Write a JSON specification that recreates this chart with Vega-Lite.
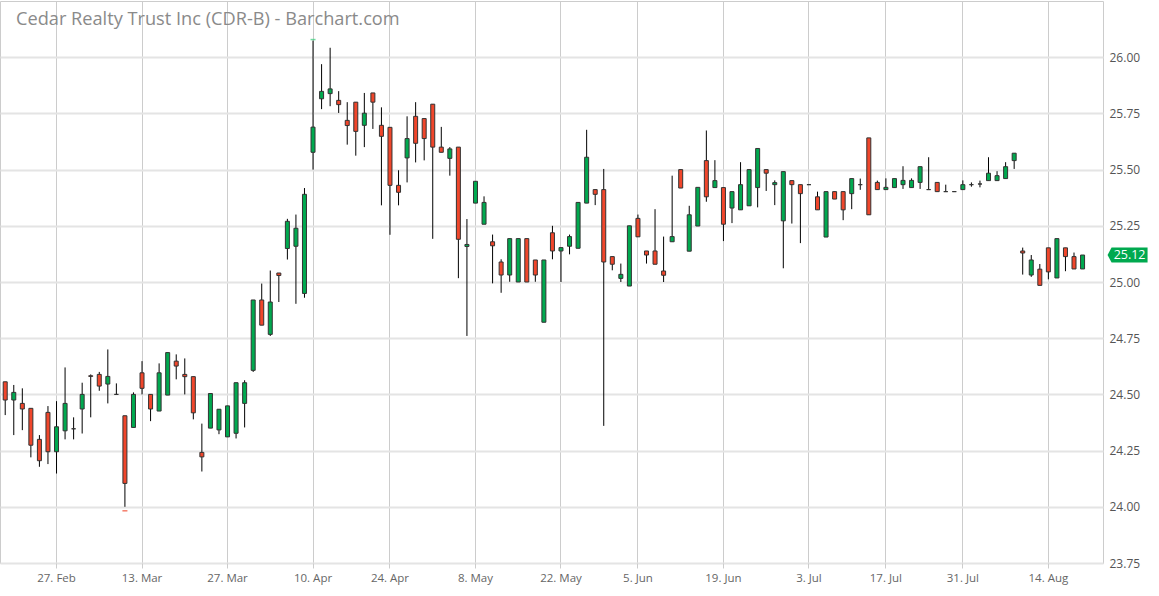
{
  "$schema": "https://vega.github.io/schema/vega-lite/v6.json",
  "autosize": "none",
  "width": 1103,
  "height": 562,
  "padding": {"left": 0, "top": 1, "right": 56, "bottom": 33},
  "background": "white",
  "config": {
    "view": {"stroke": "#cccccc", "strokeWidth": 1},
    "font": "Open Sans"
  },
  "title": {
    "text": "Cedar Realty Trust Inc (CDR-B) - Barchart.com",
    "anchor": "start",
    "frame": "group",
    "orient": "top",
    "offset": -42,
    "dx": 16,
    "baseline": "alphabetic",
    "font": "Open Sans",
    "fontSize": 18.2,
    "fontWeight": "normal",
    "color": "#8a8a8a"
  },
  "data": {
    "values": [
      {"d":"2017-02-16","o":24.556,"h":24.556,"l":24.408,"c":24.475},
      {"d":"2017-02-17","o":24.475,"h":24.542,"l":24.319,"c":24.509},
      {"d":"2017-02-21","o":24.46,"h":24.527,"l":24.341,"c":24.435},
      {"d":"2017-02-22","o":24.438,"h":24.438,"l":24.22,"c":24.274},
      {"d":"2017-02-23","o":24.3,"h":24.319,"l":24.178,"c":24.205},
      {"d":"2017-02-24","o":24.42,"h":24.448,"l":24.19,"c":24.245},
      {"d":"2017-02-27","o":24.245,"h":24.47,"l":24.148,"c":24.356},
      {"d":"2017-02-28","o":24.338,"h":24.62,"l":24.3,"c":24.46},
      {"d":"2017-03-01","o":24.347,"h":24.398,"l":24.3,"c":24.347},
      {"d":"2017-03-02","o":24.435,"h":24.552,"l":24.326,"c":24.5},
      {"d":"2017-03-03","o":24.583,"h":24.589,"l":24.398,"c":24.58},
      {"d":"2017-03-06","o":24.589,"h":24.6,"l":24.516,"c":24.537},
      {"d":"2017-03-07","o":24.546,"h":24.7,"l":24.46,"c":24.58},
      {"d":"2017-03-08","o":24.5,"h":24.549,"l":24.5,"c":24.5},
      {"d":"2017-03-09","o":24.405,"h":24.405,"l":24.0,"c":24.104},
      {"d":"2017-03-10","o":24.353,"h":24.509,"l":24.353,"c":24.5},
      {"d":"2017-03-13","o":24.596,"h":24.648,"l":24.5,"c":24.527},
      {"d":"2017-03-14","o":24.5,"h":24.5,"l":24.381,"c":24.435},
      {"d":"2017-03-15","o":24.426,"h":24.638,"l":24.426,"c":24.596},
      {"d":"2017-03-16","o":24.497,"h":24.686,"l":24.497,"c":24.686},
      {"d":"2017-03-17","o":24.648,"h":24.678,"l":24.567,"c":24.626},
      {"d":"2017-03-20","o":24.589,"h":24.66,"l":24.5,"c":24.579},
      {"d":"2017-03-21","o":24.579,"h":24.579,"l":24.389,"c":24.418},
      {"d":"2017-03-22","o":24.242,"h":24.37,"l":24.157,"c":24.222},
      {"d":"2017-03-23","o":24.35,"h":24.504,"l":24.35,"c":24.504},
      {"d":"2017-03-24","o":24.342,"h":24.434,"l":24.323,"c":24.434},
      {"d":"2017-03-27","o":24.311,"h":24.449,"l":24.311,"c":24.449},
      {"d":"2017-03-28","o":24.327,"h":24.552,"l":24.304,"c":24.552},
      {"d":"2017-03-29","o":24.46,"h":24.563,"l":24.353,"c":24.552},
      {"d":"2017-03-30","o":24.607,"h":24.92,"l":24.6,"c":24.92},
      {"d":"2017-03-31","o":24.92,"h":24.993,"l":24.808,"c":24.808},
      {"d":"2017-04-03","o":24.767,"h":25.051,"l":24.76,"c":24.911},
      {"d":"2017-04-04","o":25.04,"h":25.04,"l":24.911,"c":25.029},
      {"d":"2017-04-05","o":25.149,"h":25.281,"l":25.1,"c":25.27},
      {"d":"2017-04-06","o":25.159,"h":25.3,"l":24.903,"c":25.239},
      {"d":"2017-04-07","o":24.949,"h":25.418,"l":24.93,"c":25.39},
      {"d":"2017-04-10","o":25.577,"h":26.074,"l":25.5,"c":25.689},
      {"d":"2017-04-11","o":25.815,"h":25.969,"l":25.769,"c":25.848},
      {"d":"2017-04-12","o":25.838,"h":26.042,"l":25.782,"c":25.859},
      {"d":"2017-04-13","o":25.808,"h":25.849,"l":25.752,"c":25.789},
      {"d":"2017-04-17","o":25.719,"h":25.8,"l":25.611,"c":25.696},
      {"d":"2017-04-18","o":25.8,"h":25.8,"l":25.562,"c":25.67},
      {"d":"2017-04-19","o":25.697,"h":25.841,"l":25.6,"c":25.751},
      {"d":"2017-04-20","o":25.841,"h":25.841,"l":25.681,"c":25.8},
      {"d":"2017-04-21","o":25.697,"h":25.777,"l":25.341,"c":25.648},
      {"d":"2017-04-24","o":25.688,"h":25.688,"l":25.21,"c":25.43},
      {"d":"2017-04-25","o":25.43,"h":25.497,"l":25.341,"c":25.399},
      {"d":"2017-04-26","o":25.552,"h":25.737,"l":25.443,"c":25.638},
      {"d":"2017-04-27","o":25.737,"h":25.8,"l":25.532,"c":25.617},
      {"d":"2017-04-28","o":25.727,"h":25.727,"l":25.541,"c":25.638},
      {"d":"2017-05-01","o":25.791,"h":25.791,"l":25.192,"c":25.6},
      {"d":"2017-05-02","o":25.6,"h":25.69,"l":25.577,"c":25.577},
      {"d":"2017-05-03","o":25.55,"h":25.6,"l":25.473,"c":25.592},
      {"d":"2017-05-04","o":25.6,"h":25.6,"l":25.017,"c":25.19},
      {"d":"2017-05-05","o":25.158,"h":25.28,"l":24.76,"c":25.167},
      {"d":"2017-05-08","o":25.351,"h":25.448,"l":25.351,"c":25.448},
      {"d":"2017-05-09","o":25.257,"h":25.381,"l":25.257,"c":25.354},
      {"d":"2017-05-10","o":25.179,"h":25.211,"l":24.994,"c":25.161},
      {"d":"2017-05-11","o":25.089,"h":25.101,"l":24.952,"c":25.031},
      {"d":"2017-05-12","o":25.031,"h":25.193,"l":25.001,"c":25.193},
      {"d":"2017-05-15","o":25.0,"h":25.193,"l":25.0,"c":25.193},
      {"d":"2017-05-16","o":25.193,"h":25.193,"l":25.0,"c":25.0},
      {"d":"2017-05-17","o":25.098,"h":25.098,"l":25.001,"c":25.031},
      {"d":"2017-05-18","o":24.821,"h":25.098,"l":24.821,"c":25.098},
      {"d":"2017-05-19","o":25.219,"h":25.25,"l":25.101,"c":25.138},
      {"d":"2017-05-22","o":25.138,"h":25.153,"l":25.0,"c":25.153},
      {"d":"2017-05-23","o":25.159,"h":25.211,"l":25.123,"c":25.202},
      {"d":"2017-05-24","o":25.15,"h":25.354,"l":25.15,"c":25.354},
      {"d":"2017-05-25","o":25.351,"h":25.677,"l":25.351,"c":25.555},
      {"d":"2017-05-26","o":25.411,"h":25.411,"l":25.342,"c":25.39},
      {"d":"2017-05-30","o":25.411,"h":25.503,"l":24.36,"c":25.089},
      {"d":"2017-05-31","o":25.113,"h":25.113,"l":25.052,"c":25.079},
      {"d":"2017-06-01","o":25.016,"h":25.082,"l":25.0,"c":25.034},
      {"d":"2017-06-02","o":24.982,"h":25.25,"l":24.982,"c":25.25},
      {"d":"2017-06-05","o":25.283,"h":25.3,"l":25.201,"c":25.201},
      {"d":"2017-06-06","o":25.138,"h":25.138,"l":25.082,"c":25.12},
      {"d":"2017-06-07","o":25.138,"h":25.324,"l":25.079,"c":25.079},
      {"d":"2017-06-08","o":25.049,"h":25.202,"l":25.0,"c":25.03},
      {"d":"2017-06-09","o":25.179,"h":25.473,"l":25.179,"c":25.202},
      {"d":"2017-06-12","o":25.5,"h":25.5,"l":25.418,"c":25.418},
      {"d":"2017-06-13","o":25.137,"h":25.339,"l":25.137,"c":25.299},
      {"d":"2017-06-14","o":25.249,"h":25.421,"l":25.249,"c":25.421},
      {"d":"2017-06-15","o":25.54,"h":25.674,"l":25.357,"c":25.379},
      {"d":"2017-06-16","o":25.42,"h":25.542,"l":25.42,"c":25.451},
      {"d":"2017-06-19","o":25.42,"h":25.42,"l":25.182,"c":25.257},
      {"d":"2017-06-20","o":25.329,"h":25.402,"l":25.262,"c":25.402},
      {"d":"2017-06-21","o":25.321,"h":25.533,"l":25.321,"c":25.433},
      {"d":"2017-06-22","o":25.339,"h":25.5,"l":25.339,"c":25.5},
      {"d":"2017-06-23","o":25.42,"h":25.594,"l":25.332,"c":25.594},
      {"d":"2017-06-26","o":25.5,"h":25.5,"l":25.405,"c":25.484},
      {"d":"2017-06-27","o":25.433,"h":25.452,"l":25.342,"c":25.442},
      {"d":"2017-06-28","o":25.272,"h":25.491,"l":25.061,"c":25.491},
      {"d":"2017-06-29","o":25.451,"h":25.451,"l":25.26,"c":25.433},
      {"d":"2017-06-30","o":25.433,"h":25.433,"l":25.173,"c":25.393},
      {"d":"2017-07-03","o":25.433,"h":25.433,"l":25.433,"c":25.433},
      {"d":"2017-07-05","o":25.379,"h":25.402,"l":25.321,"c":25.321},
      {"d":"2017-07-06","o":25.2,"h":25.402,"l":25.2,"c":25.402},
      {"d":"2017-07-07","o":25.402,"h":25.402,"l":25.369,"c":25.369},
      {"d":"2017-07-10","o":25.402,"h":25.402,"l":25.275,"c":25.321},
      {"d":"2017-07-11","o":25.393,"h":25.46,"l":25.324,"c":25.46},
      {"d":"2017-07-12","o":25.433,"h":25.46,"l":25.41,"c":25.433},
      {"d":"2017-07-13","o":25.641,"h":25.641,"l":25.299,"c":25.299},
      {"d":"2017-07-14","o":25.443,"h":25.451,"l":25.411,"c":25.411},
      {"d":"2017-07-17","o":25.411,"h":25.461,"l":25.411,"c":25.421},
      {"d":"2017-07-18","o":25.42,"h":25.46,"l":25.42,"c":25.46},
      {"d":"2017-07-19","o":25.433,"h":25.515,"l":25.414,"c":25.452},
      {"d":"2017-07-20","o":25.42,"h":25.461,"l":25.42,"c":25.452},
      {"d":"2017-07-24","o":25.443,"h":25.513,"l":25.414,"c":25.513},
      {"d":"2017-07-25","o":25.411,"h":25.555,"l":25.411,"c":25.411},
      {"d":"2017-07-26","o":25.443,"h":25.443,"l":25.402,"c":25.402},
      {"d":"2017-07-27","o":25.402,"h":25.433,"l":25.402,"c":25.402},
      {"d":"2017-07-28","o":25.402,"h":25.402,"l":25.402,"c":25.402},
      {"d":"2017-07-31","o":25.411,"h":25.452,"l":25.411,"c":25.433},
      {"d":"2017-08-01","o":25.433,"h":25.443,"l":25.424,"c":25.433},
      {"d":"2017-08-02","o":25.436,"h":25.451,"l":25.421,"c":25.436},
      {"d":"2017-08-03","o":25.451,"h":25.555,"l":25.451,"c":25.484},
      {"d":"2017-08-04","o":25.451,"h":25.493,"l":25.451,"c":25.473},
      {"d":"2017-08-07","o":25.46,"h":25.533,"l":25.46,"c":25.513},
      {"d":"2017-08-08","o":25.54,"h":25.573,"l":25.503,"c":25.573},
      {"d":"2017-08-09","o":25.138,"h":25.153,"l":25.033,"c":25.129},
      {"d":"2017-08-10","o":25.031,"h":25.12,"l":25.023,"c":25.098},
      {"d":"2017-08-11","o":25.057,"h":25.08,"l":24.985,"c":24.985},
      {"d":"2017-08-14","o":25.152,"h":25.152,"l":25.012,"c":25.045},
      {"d":"2017-08-15","o":25.018,"h":25.193,"l":25.018,"c":25.193},
      {"d":"2017-08-16","o":25.152,"h":25.152,"l":25.048,"c":25.113},
      {"d":"2017-08-17","o":25.113,"h":25.131,"l":25.058,"c":25.058},
      {"d":"2017-08-18","o":25.058,"h":25.12,"l":25.058,"c":25.12}
    ]
  },
  "encoding": {
    "x": {
      "field": "d",
      "type": "ordinal",
      "title": null,
      "scale": {"type": "band", "paddingInner": 0, "paddingOuter": 1.1, "align": 0.055},
      "axis": {
        "values": ["2017-02-27","2017-03-13","2017-03-27","2017-04-10","2017-04-24","2017-05-08","2017-05-22","2017-06-05","2017-06-19","2017-07-03","2017-07-17","2017-07-31","2017-08-14"],
        "labelExpr": "utcFormat(toDate(datum.value), '%-d. %b')",
        "labelAngle": 0,
        "labelFont": "Open Sans",
        "labelFontSize": 11.5,
        "labelColor": "#666666",
        "labelPadding": 4,
        "domain": false,
        "ticks": true,
        "tickColor": "#cccccc",
        "tickSize": 5,
        "grid": true,
        "gridColor": "#cccccc",
        "gridWidth": 1
      }
    }
  },
  "layer": [
    {
      "mark": {"type": "rule", "color": "#000000", "strokeWidth": 1},
      "encoding": {
        "y": {
          "field": "l",
          "type": "quantitative",
          "title": null,
          "scale": {"domain": [23.75, 26.25], "nice": false, "zero": false},
          "axis": {
            "orient": "right",
            "values": [23.75, 24.0, 24.25, 24.5, 24.75, 25.0, 25.25, 25.5, 25.75, 26.0],
            "format": ".2f",
            "labelFont": "Open Sans",
            "labelFontSize": 12,
            "labelColor": "#555555",
            "labelPadding": 6,
            "domain": false,
            "ticks": false,
            "grid": true,
            "gridColor": "#e4e4e4",
            "gridWidth": 2
          }
        },
        "y2": {"field": "h"}
      }
    },
    {
      "mark": {"type": "bar", "size": 4, "stroke": "#333333", "strokeWidth": 1},
      "encoding": {
        "y": {"field": "o", "type": "quantitative"},
        "y2": {"field": "c"},
        "fill": {
          "condition": {"test": "datum.c > datum.o", "value": "#00a94f"},
          "value": "#f0462b"
        }
      }
    },
    {
      "transform": [{"filter": "datum.d == '2017-04-10'"}],
      "mark": {"type": "tick", "color": "#33cc77", "size": 5, "thickness": 1.5, "yOffset": -1},
      "encoding": {"y": {"field": "h", "type": "quantitative"}}
    },
    {
      "transform": [{"filter": "datum.d == '2017-03-09'"}],
      "mark": {"type": "tick", "color": "#f0462b", "size": 5, "thickness": 1.5, "yOffset": 4},
      "encoding": {"y": {"field": "l", "type": "quantitative"}}
    },
    {
      "transform": [{"filter": "datum.d == '2017-08-18'"}],
      "mark": {
        "type": "point",
        "filled": true,
        "opacity": 1,
        "color": "#00a94f",
        "size": 1600,
        "shape": "M -1 0 L -0.8 -0.37 L 1 -0.37 L 1 0.37 L -0.8 0.37 Z",
        "xOffset": 45
      },
      "encoding": {"y": {"field": "c", "type": "quantitative"}}
    },
    {
      "transform": [{"filter": "datum.d == '2017-08-18'"}],
      "mark": {
        "type": "text",
        "color": "white",
        "font": "Open Sans",
        "fontSize": 12.5,
        "align": "center",
        "baseline": "middle",
        "dx": 47
      },
      "encoding": {
        "y": {"field": "c", "type": "quantitative"},
        "text": {"field": "c", "type": "quantitative", "format": ".2f"}
      }
    }
  ]
}
